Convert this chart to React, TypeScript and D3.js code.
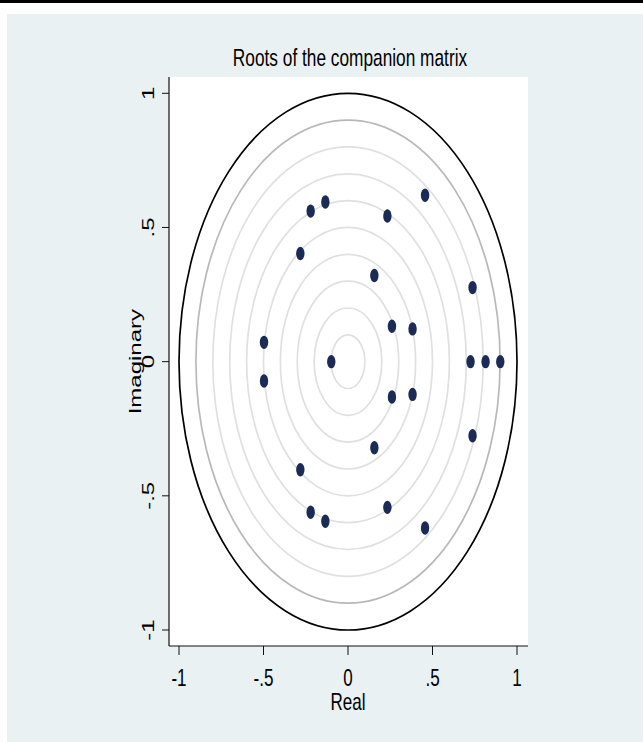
import React from "react";
import * as d3 from "d3";

const rootsRe = [
  -0.134, -0.134, -0.221, -0.221, -0.282, -0.282, -0.497, -0.497, 0.456, 0.456,
  0.233, 0.233, 0.156, 0.156, 0.737, 0.737, 0.26, 0.26, 0.382, 0.382,
  -0.099, 0.725, 0.814, 0.901,
];
const rootsIm = [
  0.595, -0.595, 0.561, -0.561, 0.403, -0.403, 0.072, -0.072, 0.62, -0.62,
  0.543, -0.543, 0.321, -0.321, 0.276, -0.276, 0.132, -0.132, 0.122, -0.122,
  0, 0, 0, 0,
];
const ringRadii = [0.1, 0.2, 0.3, 0.4, 0.5, 0.6, 0.7, 0.8, 0.9, 1.0];
const xTicks = [-1, -0.5, 0, 0.5, 1];
const yTicks = [-1, -0.5, 0, 0.5, 1];
const fmt = (v: number) => (v === 0 ? "0" : String(v).replace("0.", "."));

const W = 643;
const H = 742;
const plot = { left: 169, right: 528, top: 77, bottom: 646 };
const SX = 0.71;
const FONT = "'Liberation Sans', Arial, Helvetica, sans-serif";

export default function App() {
  const x = d3.scaleLinear().domain([-1, 1]).range([179, 517]);
  const y = d3.scaleLinear().domain([-1, 1]).range([630, 93.3]);
  const cx = x(0);
  const cy = y(0);

  const ringColor = (r: number) => (r === 1 ? "#000" : r >= 0.9 ? "#b8b8b8" : "#e0e0e0");

  const HText = ({ tx, ty, size, sx = SX, children }: any) => (
    <g transform={`translate(${tx},${ty}) scale(${sx},1)`}>
      <text textAnchor="middle" fontSize={size} fontFamily={FONT} fill="#000">
        {children}
      </text>
    </g>
  );
  const VText = ({ tx, ty, size, children }: any) => (
    <g transform={`translate(${tx},${ty}) rotate(-90) scale(1,${SX})`}>
      <text textAnchor="middle" fontSize={size} fontFamily={FONT} fill="#000">
        {children}
      </text>
    </g>
  );

  return (
    <svg
      width={W}
      height={H}
      style={{ position: "absolute", left: 0, top: 0, display: "block" }}
    >
      <rect x={0} y={0} width={W} height={H} fill="#fff" />
      <rect x={0} y={0} width={W} height={3} fill="#000" />
      <rect x={7} y={14} width={W - 7} height={H - 14} fill="#eaf1f3" />
      <rect
        x={plot.left}
        y={plot.top}
        width={plot.right - plot.left}
        height={plot.bottom - plot.top}
        fill="#fff"
      />
      <HText tx={350} ty={66} size={24} sx={0.72}>Roots of the companion matrix</HText>

      {ringRadii.map((r) => (
        <ellipse
          key={r}
          cx={cx}
          cy={cy}
          rx={x(r) - cx}
          ry={cy - y(r)}
          fill="none"
          stroke={ringColor(r)}
          strokeWidth={1.7}
        />
      ))}

      {rootsRe.map((re, i) => (
        <ellipse key={i} cx={x(re)} cy={y(rootsIm[i])} rx={4.2} ry={6.7} fill="#1c2b55" />
      ))}

      <line x1={plot.left} x2={plot.left} y1={plot.top} y2={plot.bottom} stroke="#111" strokeWidth={1.2} />
      <line x1={plot.left} x2={plot.right} y1={plot.bottom} y2={plot.bottom} stroke="#111" strokeWidth={1.2} />

      {xTicks.map((t) => (
        <g key={"x" + t}>
          <line x1={x(t)} x2={x(t)} y1={plot.bottom} y2={plot.bottom + 9} stroke="#111" />
          <HText tx={x(t)} ty={686} size={24}>{fmt(t)}</HText>
        </g>
      ))}
      {yTicks.map((t) => (
        <g key={"y" + t}>
          <line x1={plot.left} x2={plot.left - 7} y1={y(t)} y2={y(t)} stroke="#111" />
          <VText tx={154} ty={y(t)} size={24}>{fmt(t)}</VText>
        </g>
      ))}
      <HText tx={348} ty={710} size={24}>Real</HText>
      <VText tx={141} ty={y(0)} size={24}>Imaginary</VText>
    </svg>
  );
}
